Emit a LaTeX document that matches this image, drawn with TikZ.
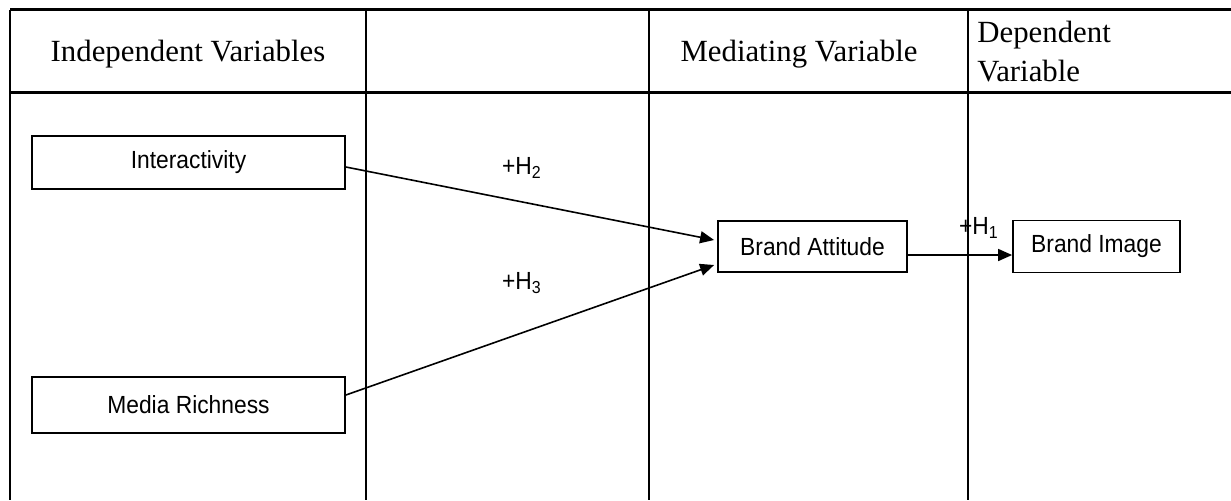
\documentclass[tikz,border=0pt]{standalone}
\usepackage{fontspec}
\setmainfont{Liberation Serif}
\setsansfont{Liberation Sans}
\newfontfamily\boxfont[FakeStretch=0.92]{Liberation Sans}
\usetikzlibrary{arrows.meta}

\begin{document}
\begin{tikzpicture}[
        x=0.5pt, y=-0.5pt,
        grid/.style={line width=1.1pt},
        head/.style={font=\fontsize{15.4}{19.5}\selectfont, inner sep=0pt, align=left},
        varbox/.style={draw, line width=0.9pt, inner sep=0pt, font=\boxfont\fontsize{12.4}{14}\selectfont},
        hyp/.style={inner sep=0pt, font=\boxfont\fontsize{12.4}{14}\selectfont},
        link/.style={-{Triangle[length=7pt,width=6pt]}, line width=0.8pt}
    ]
    \useasboundingbox (0,0) rectangle (1231,500);

    % Table
    \draw[grid] (10,9.5) -- (1231,9.5);
    \draw[grid] (10,92.5) -- (1231,92.5);
    \draw[grid] (10,9.5) -- (10,500);
    \draw[grid] (366,9.5) -- (366,500);
    \draw[grid] (649,9.5) -- (649,500);
    \draw[grid] (968,9.5) -- (968,500);

    % Headings
    \node[head] (indep) at (188,54) {Independent Variables};
    \node[head] (medi) at (799,54) {Mediating Variable};
    \node[head, anchor=west] (dep) at (977,52) {Dependent\\Variable};

    % Nodes
    \node[varbox, minimum width=156.5pt, minimum height=26.5pt] (inter) at (188.5,162.5) {Interactivity};
    \node[varbox, minimum width=156.5pt, minimum height=28pt] (media) at (188.5,405) {Media Richness};
    \node[varbox, minimum width=94.5pt, minimum height=25.5pt] (attitude) at (812.5,246.5) {Brand Attitude};
    \node[varbox, minimum width=83.5pt, minimum height=26pt] (image) at (1096.5,246.5) {Brand Image};

    \node[hyp] (h2) at (522,168) {+H\textsubscript{2}};
    \node[hyp] (h3) at (522,283) {+H\textsubscript{3}};
    \node[hyp] (h1) at (979,228) {+H\textsubscript{1}};

    % Edges
    \draw[link] ([yshift=-2.25pt]inter.east) -- ([xshift=-1.5pt,yshift=3.25pt]attitude.west);
    \draw[link] ([yshift=5pt]media.east) -- ([xshift=-1.5pt,yshift=-9.25pt]attitude.west);
    \draw[link] ([yshift=-4.25pt]attitude.east) -- ([yshift=-4.25pt]image.west);

\end{tikzpicture}
\end{document}
